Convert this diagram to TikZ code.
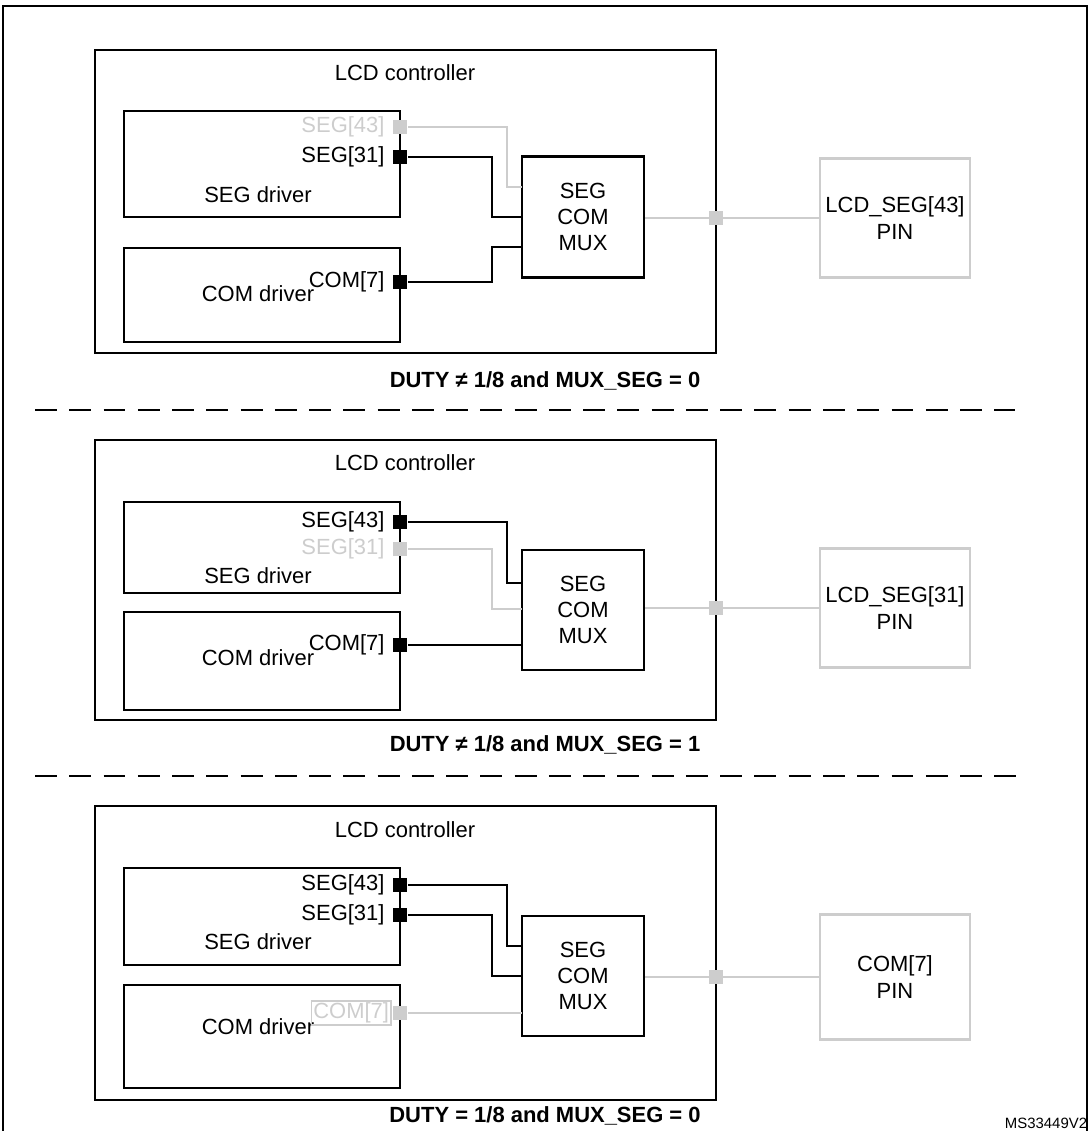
\documentclass[tikz,border=0pt]{standalone}
\usepackage{fontspec}
\setmainfont{Liberation Sans}
\usetikzlibrary{positioning}
\definecolor{dim}{RGB}{205,205,205}
\tikzset{
  blk/.style={draw,line width=1.5pt,inner sep=0pt},
  dimblk/.style={draw=dim,line width=1.5pt,inner sep=0pt},
  pad/.style={fill=black,minimum size=8pt,inner sep=0pt},
  dimpad/.style={fill=dim,minimum size=8pt,inner sep=0pt},
  wire/.style={line width=1.5pt},
  dimwire/.style={line width=1.5pt,draw=dim},
  captxt/.style={font=\fontsize{12.5}{15}\selectfont\bfseries}
}
\begin{document}
\begin{tikzpicture}[x=0.02cm,y=-0.02cm,font=\fontsize{12.5}{15}\selectfont,line width=1.5pt]
  \useasboundingbox (0,0) rectangle (1091,1131);
  \draw(3,1131) -- (3,6) -- (1087,6) -- (1087,1131);
  % panel 1
  \draw(95,50) rectangle (716,353);
  \node (ctrlA) at (405,73) {LCD controller};
  \draw(124,111) rectangle (400,217);
  \node (segA) at (258,195) {SEG driver};
  \draw(124,248) rectangle (400,342);
  \node (comA) at (258,294) {COM driver};
  \node[pad] (s31A) at (400,157) {};
  \node[dimpad] (s43A) at (400,127) {};
  \node[pad] (c7A) at (400,282) {};
  \node[left=0pt of s43A,text=dim] {SEG[43]};
  \node[left=0pt of s31A] {SEG[31]};
  \node[left=0pt of c7A] {COM[7]};
  \node[blk,minimum width=122*0.02cm,minimum height=121*0.02cm,align=center] (muxA) at (583,217) {SEG\\COM\\MUX};
  \node[dimblk,minimum width=150*0.02cm,minimum height=119*0.02cm,align=center] (pinA) at (895,218) {LCD\_SEG[43]\\PIN};
  \draw[dimwire](s43A) -- (507,127) -- (507,187) -- (522,187);
  \draw[wire](s31A) -- (492,157) -- (492,217) -- (522,217);
  \draw[wire](c7A) -- (492,282) -- (492,247) -- (522,247);
  \draw[dimwire](muxA.east |- pinA) -- (pinA);
  \node[dimpad] (oA) at (716,218) {};
  \node[captxt] at (545,381) {DUTY ≠ 1/8 and MUX\_SEG = 0};
  \draw[dash pattern=on 12.5pt off 7pt](35,410) -- (1015,410);
  % panel 2
  \draw(95,440) rectangle (716,720);
  \node (ctrlB) at (405,463) {LCD controller};
  \draw(124,502) rectangle (400,593);
  \node (segB) at (258,576) {SEG driver};
  \draw(124,612) rectangle (400,710);
  \node (comB) at (258,658) {COM driver};
  \node[pad] (s43B) at (400,522) {};
  \node[dimpad] (s31B) at (400,549) {};
  \node[pad] (c7B) at (400,645) {};
  \node[left=0pt of s43B] {SEG[43]};
  \node[left=0pt of s31B,text=dim] {SEG[31]};
  \node[left=0pt of c7B] {COM[7]};
  \node[blk,minimum width=122*0.02cm,minimum height=120*0.02cm,align=center] (muxB) at (583,610) {SEG\\COM\\MUX};
  \node[dimblk,minimum width=150*0.02cm,minimum height=119*0.02cm,align=center] (pinB) at (895,608) {LCD\_SEG[31]\\PIN};
  \draw[wire](s43B) -- (507,522) -- (507,583) -- (522,583);
  \draw[dimwire](s31B) -- (492,549) -- (492,609) -- (522,609);
  \draw[wire](c7B) -- (522,645);
  \draw[dimwire](muxB.east |- pinB) -- (pinB);
  \node[dimpad] (oB) at (716,608) {};
  \node[captxt] at (545,745) {DUTY ≠ 1/8 and MUX\_SEG = 1};
  \draw[dash pattern=on 12.5pt off 7pt](35,776) -- (1020,776);
  % panel 3
  \draw(95,806) rectangle (716,1100);
  \node (ctrlC) at (405,830) {LCD controller};
  \draw(124,868) rectangle (400,965);
  \node (segC) at (258,942) {SEG driver};
  \draw(124,985) rectangle (400,1088);
  \node (comC) at (258,1027) {COM driver};
  \node[pad] (s43C) at (400,885) {};
  \node[pad] (s31C) at (400,915) {};
  \node[dimpad] (c7C) at (400,1013) {};
  \node[left=0pt of s43C] {SEG[43]};
  \node[left=0pt of s31C] {SEG[31]};
  \node[left=0pt of c7C,text=dim,draw=dim,line width=1pt,inner sep=1pt] {COM[7]};
  \node[blk,minimum width=122*0.02cm,minimum height=120*0.02cm,align=center] (muxC) at (583,976) {SEG\\COM\\MUX};
  \node[dimblk,minimum width=150*0.02cm,minimum height=125*0.02cm,align=center] (pinC) at (895,977) {COM[7]\\PIN};
  \draw[wire](s43C) -- (507,885) -- (507,946) -- (522,946);
  \draw[wire](s31C) -- (492,915) -- (492,976) -- (522,976);
  \draw[dimwire](c7C) -- (522,1013);
  \draw[dimwire](muxC.east |- pinC) -- (pinC);
  \node[dimpad] (oC) at (716,977) {};
  \node[captxt] at (545,1116) {DUTY = 1/8 and MUX\_SEG = 0};
  \node[font=\fontsize{8.5}{10}\selectfont] at (1046,1123) {MS33449V2};
\end{tikzpicture}
\end{document}
